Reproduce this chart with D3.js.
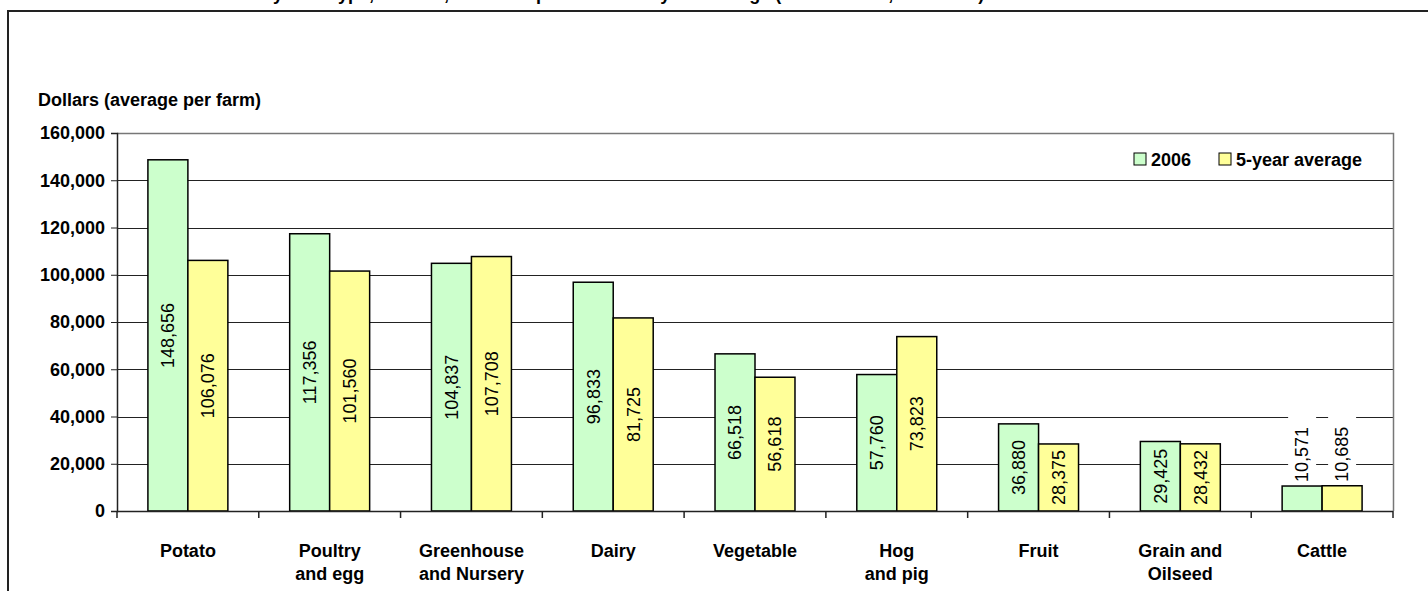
<!DOCTYPE html>
<html>
<head>
<meta charset="utf-8">
<script src="https://cdn.jsdelivr.net/npm/d3@7"></script>
<style>
  body { margin: 0; background: #fff; }
  svg { display: block; font-family: Arial, "Liberation Sans", sans-serif; }
</style>
</head>
<body>
<svg id="chart"></svg>
<script>
// data
var categories = [["Potato"], ["Poultry", "and egg"], ["Greenhouse", "and Nursery"], ["Dairy"], ["Vegetable"],
                  ["Hog", "and pig"], ["Fruit"], ["Grain and", "Oilseed"], ["Cattle"]];
var series = ["2006", "5-year average"];
var values2006 = [148656, 117356, 104837, 96833, 66518, 57760, 36880, 29425, 10571];
var valuesAvg = [106076, 101560, 107708, 81725, 56618, 73823, 28375, 28432, 10685];
var yTicks = [0, 20000, 40000, 60000, 80000, 100000, 120000, 140000, 160000];
var colors = ["#ccffcc", "#ffff99"];

var W = 1428, H = 591;
var pLeft = 117, pRight = 1393, pTop = 133, pBottom = 511;
var fs = 18;

var svg = d3.select("#chart").attr("width", W).attr("height", H);

// outer frame + title (cut off at top)
svg.append("rect")
    .attr("x", 8).attr("y", 11)
    .attr("width", 1500).attr("height", 700)
    .attr("fill", "none").attr("stroke", "#222").attr("stroke-width", 2);

svg.append("text")
    .attr("x", 262).attr("y", -0.5)
    .attr("font-size", fs).attr("font-weight", "bold")
    .text("by farm type, Canada, 2006 compared to the 5-year average (2001 to 2005, in dollars)");

var keys = categories.map(function(c) { return c.join(" "); });

var x0 = d3.scaleBand().domain(keys).range([pLeft, pRight]).padding(0);
var bw = x0.bandwidth();
var x1 = d3.scaleBand().domain(series).range([bw * 0.218, bw * 0.782]).padding(0);
var y = d3.scaleLinear().domain([0, 160000]).range([pBottom, pTop]);

// gridlines
svg.append("g").selectAll("line")
    .data(yTicks.slice(1, -1))
    .enter().append("line")
    .attr("x1", pLeft).attr("x2", pRight)
    .attr("y1", function(d) { return Math.round(y(d)) + 0.5; })
    .attr("y2", function(d) { return Math.round(y(d)) + 0.5; })
    .attr("stroke", "#222").attr("stroke-width", 1);

// plot area border (top/right)
svg.append("path")
    .attr("d", "M" + pLeft + "," + (pTop + 0.5) + "H" + (pRight + 0.5) + "V" + pBottom)
    .attr("fill", "none").attr("stroke", "#777").attr("stroke-width", 1.5);

// bars
var rows = keys.map(function(k, i) {
    return { key: k, vals: [values2006[i], valuesAvg[i]] };
});

var groups = svg.append("g").selectAll("g")
    .data(rows)
    .enter().append("g")
    .attr("transform", function(d) { return "translate(" + x0(d.key) + ",0)"; });

var bars = groups.selectAll("g")
    .data(function(d) { return d.vals.map(function(v, j) { return { s: series[j], v: v, j: j }; }); })
    .enter().append("g");

bars.append("rect")
    .attr("x", function(d) { return x1(d.s); })
    .attr("width", x1.bandwidth())
    .attr("y", function(d) { return y(d.v); })
    .attr("height", function(d) { return pBottom - y(d.v); })
    .attr("fill", function(d) { return colors[d.j]; })
    .attr("stroke", "#000").attr("stroke-width", 1.5);

var fmt = d3.format(",");
var labelLen = 62;

bars.each(function(d) {
    var g = d3.select(this);
    var cx = x1(d.s) + x1.bandwidth() / 2;
    var h = pBottom - y(d.v);
    if (h > 40) {
        g.append("text")
            .attr("transform", "translate(" + cx + "," + (y(d.v) + h / 2) + ") rotate(-90)")
            .attr("text-anchor", "middle")
            .attr("dy", "0.35em")
            .attr("font-size", fs)
            .text(fmt(d.v));
    } else {
        // too short: label sits above the bar on a white patch
        var by = y(d.v) - 4;
        g.append("rect")
            .attr("x", cx - 14).attr("y", by - labelLen - 4)
            .attr("width", 28).attr("height", labelLen + 4)
            .attr("fill", "#fff");
        g.append("text")
            .attr("transform", "translate(" + cx + "," + by + ") rotate(-90)")
            .attr("text-anchor", "start")
            .attr("dy", "0.35em")
            .attr("font-size", fs)
            .text(fmt(d.v));
    }
});

// y axis
var yAxis = svg.append("g")
    .attr("transform", "translate(" + pLeft + ",0)")
    .call(d3.axisLeft(y).tickValues(yTicks).tickFormat(fmt).tickSize(6).tickPadding(6));
yAxis.select(".domain").attr("stroke", "#222").attr("stroke-width", 1.5);
yAxis.selectAll(".tick line").attr("stroke", "#222");
yAxis.selectAll(".tick text")
    .attr("font-size", fs).attr("font-weight", "bold")
    .attr("font-family", "Arial, 'Liberation Sans', sans-serif")
    .attr("fill", "#000");

// x axis
svg.append("line")
    .attr("x1", pLeft).attr("x2", pRight)
    .attr("y1", pBottom + 0.5).attr("y2", pBottom + 0.5)
    .attr("stroke", "#222").attr("stroke-width", 1.5);

svg.append("g").selectAll("line")
    .data(keys.concat(["end"]))
    .enter().append("line")
    .attr("x1", function(d) { return d === "end" ? pRight : x0(d); })
    .attr("x2", function(d) { return d === "end" ? pRight : x0(d); })
    .attr("y1", pBottom).attr("y2", pBottom + 7)
    .attr("stroke", "#222").attr("stroke-width", 1.5);

var xl = svg.append("g").selectAll("text")
    .data(categories)
    .enter().append("text")
    .attr("x", function(d, i) { return x0(keys[i]) + bw / 2; })
    .attr("y", 557)
    .attr("text-anchor", "middle")
    .attr("font-size", fs).attr("font-weight", "bold");

xl.selectAll("tspan")
    .data(function(d) { return d; })
    .enter().append("tspan")
    .attr("x", function() { return d3.select(this.parentNode).attr("x"); })
    .attr("dy", function(d, i) { return i === 0 ? 0 : 23; })
    .text(function(d) { return d; });

// y axis title
svg.append("text")
    .attr("x", 38).attr("y", 106)
    .attr("font-size", fs).attr("font-weight", "bold")
    .text("Dollars (average per farm)");

// legend
var legendX = [1134, 1219];
var leg = svg.append("g").selectAll("g")
    .data(series)
    .enter().append("g")
    .attr("transform", function(d, i) { return "translate(" + legendX[i] + ",153)"; });
leg.append("rect")
    .attr("width", 12).attr("height", 12)
    .attr("fill", function(d, i) { return colors[i]; })
    .attr("stroke", "#000").attr("stroke-width", 1);
leg.append("text")
    .attr("x", 17).attr("y", 12.5)
    .attr("font-size", fs).attr("font-weight", "bold")
    .text(function(d) { return d; });
</script>
</body>
</html>
